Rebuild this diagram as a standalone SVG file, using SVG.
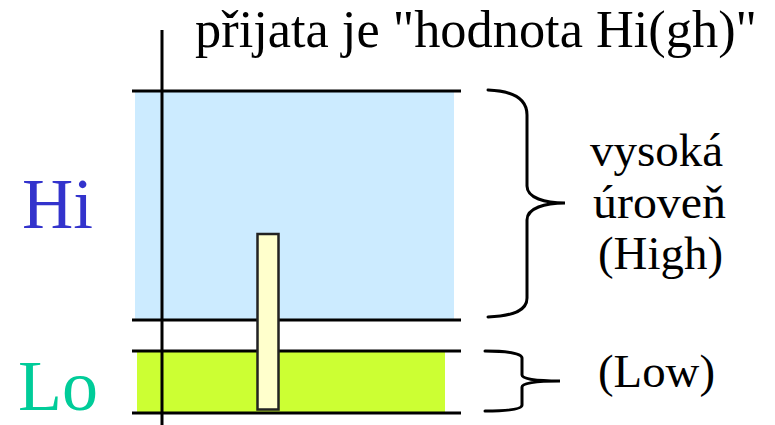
<svg xmlns="http://www.w3.org/2000/svg" width="775" height="425" viewBox="0 0 775 425">
<style>
.ln{stroke:#000;stroke-width:3;fill:none}
.br{stroke:#000;stroke-width:3;fill:none;stroke-linecap:round}
text{font-family:'Liberation Serif','Times New Roman',Times,serif;fill:#000}
</style>
<rect width="775" height="425" fill="#fff"/>
<g id="hi-zone">
<rect x="135" y="92" width="319" height="228" fill="#CCEBFF"/>
</g>
<g id="lo-zone">
<rect x="137" y="352" width="308" height="60" fill="#CCFF33"/>
</g>
<g id="connectors">
<line class="ln" x1="162" y1="30" x2="162" y2="425"/>
<line class="ln" x1="132" y1="91" x2="461" y2="91"/>
<line class="ln" x1="132" y1="320" x2="461" y2="320"/>
<line class="ln" x1="132" y1="351" x2="461" y2="351"/>
<line class="ln" x1="132" y1="413" x2="461" y2="413"/>
</g>
<g id="bar">
<rect x="257.5" y="234" width="21" height="175.5" fill="#FFFFCC" stroke="#222" stroke-width="2.5"/>
</g>
<g id="brace-high">
<path class="br" d="M488,90 C515,91 527,100 527,115 L527,186 C527,198 545,203 565,203 C545,203 527,208 527,220 L527,298 C527,310 515,316 488,317"/>
</g>
<g id="brace-low">
<path class="br" d="M485,351 C510,351 522,354 522,358 L522,375 C522,379 535,381 560,381 C535,381 522,383 522,387 L522,405 C522,409 510,411 485,411"/>
</g>
<g id="title"><text x="195" y="47" font-size="52" textLength="562" lengthAdjust="spacingAndGlyphs">přijata je "hodnota Hi(gh)"</text></g>
<g id="label-hi"><text x="22" y="228" font-size="72" style="fill:#3333CC" textLength="71" lengthAdjust="spacingAndGlyphs">Hi</text></g>
<g id="label-lo"><text x="18" y="410" font-size="72" style="fill:#00CC99" textLength="80" lengthAdjust="spacingAndGlyphs">Lo</text></g>
<g id="label-high">
<text x="590" y="166" font-size="47" textLength="133" lengthAdjust="spacingAndGlyphs">vysoká</text>
<text x="593" y="218" font-size="47" textLength="133" lengthAdjust="spacingAndGlyphs">úroveň</text>
<text x="598" y="269" font-size="47" textLength="125" lengthAdjust="spacingAndGlyphs">(High)</text>
</g>
<g id="label-low"><text x="598" y="387" font-size="47" textLength="117" lengthAdjust="spacingAndGlyphs">(Low)</text></g>
</svg>
